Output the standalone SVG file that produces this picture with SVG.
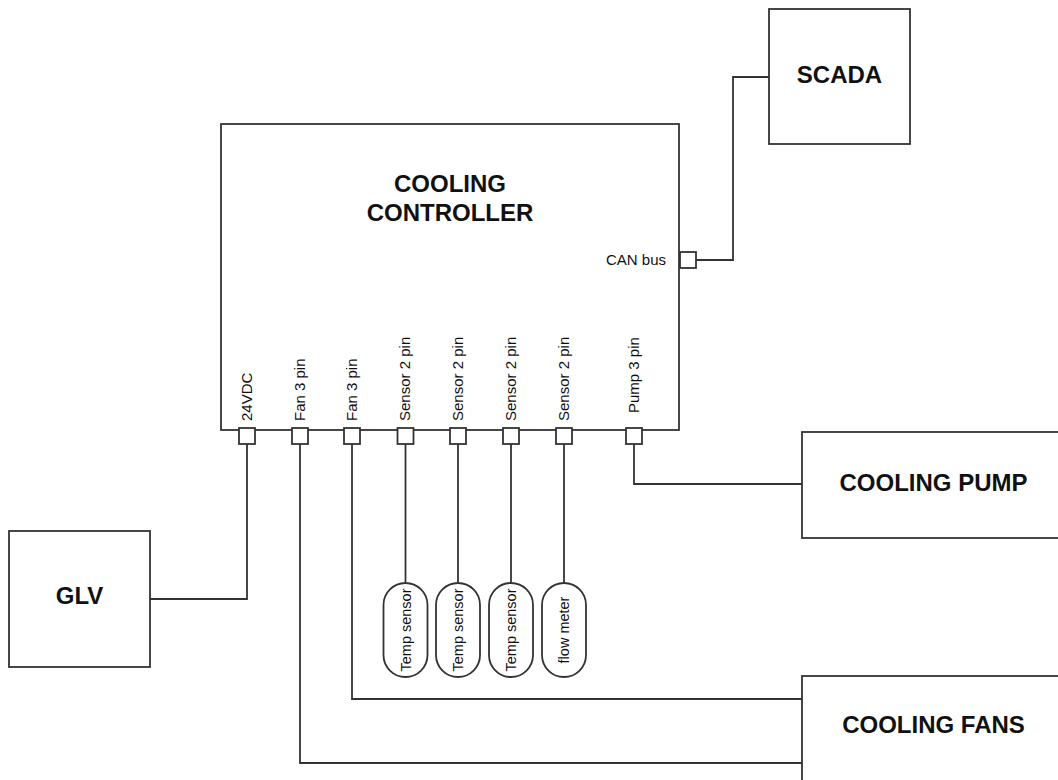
<svg xmlns="http://www.w3.org/2000/svg" width="1058" height="780" viewBox="0 0 1058 780">
<style>
.box{fill:#fff;stroke:#333;stroke-width:1.8}
.port{fill:#fff;stroke:#333;stroke-width:1.8}
.wire{fill:none;stroke:#333;stroke-width:1.8}
.title{font-family:"Liberation Sans",Arial,sans-serif;font-weight:bold;font-size:24px;fill:#111;text-anchor:middle}
.lbl{font-family:"Liberation Sans",Arial,sans-serif;font-size:15px;fill:#111}
.pl{font-family:"Liberation Sans",Arial,sans-serif;font-size:14.5px;fill:#111;text-anchor:middle}
</style>
<rect width="1058" height="780" fill="#fff"/>
<g id="connectors">
<path class="wire" d="M696 260 H733 V77 H769"/>
<path class="wire" d="M150 599 H247 V444"/>
<path class="wire" d="M634 444 V484 H802"/>
<path class="wire" d="M352 444 V699 H802"/>
<path class="wire" d="M300 444 V763 H802"/>
<path class="wire" d="M405.5 444 V583"/>
<path class="wire" d="M458 444 V583"/>
<path class="wire" d="M511 444 V583"/>
<path class="wire" d="M564 444 V583"/>
</g>
<g id="controller">
<rect class="box" x="221" y="124" width="458" height="306"/>
<text class="title" x="450" y="192">COOLING</text>
<text class="title" x="450" y="221">CONTROLLER</text>
<text class="lbl" x="666" y="265" text-anchor="end">CAN bus</text>
<rect class="port" x="680" y="252" width="16" height="16"/>
<rect class="port" x="239" y="428" width="16" height="16"/>
<rect class="port" x="292" y="428" width="16" height="16"/>
<rect class="port" x="344" y="428" width="16" height="16"/>
<rect class="port" x="397.5" y="428" width="16" height="16"/>
<rect class="port" x="450" y="428" width="16" height="16"/>
<rect class="port" x="503" y="428" width="16" height="16"/>
<rect class="port" x="556" y="428" width="16" height="16"/>
<rect class="port" x="626" y="428" width="16" height="16"/>
<text class="lbl" transform="translate(251.5,421) rotate(-90)">24VDC</text>
<text class="lbl" transform="translate(304.5,421) rotate(-90)">Fan 3 pin</text>
<text class="lbl" transform="translate(356.5,421) rotate(-90)">Fan 3 pin</text>
<text class="lbl" transform="translate(410,421) rotate(-90)">Sensor 2 pin</text>
<text class="lbl" transform="translate(462.5,421) rotate(-90)">Sensor 2 pin</text>
<text class="lbl" transform="translate(515.5,421) rotate(-90)">Sensor 2 pin</text>
<text class="lbl" transform="translate(568.5,421) rotate(-90)">Sensor 2 pin</text>
<text class="lbl" transform="translate(638.5,413) rotate(-90)">Pump 3 pin</text>
</g>
<g id="scada">
<rect class="box" x="769" y="9" width="141" height="135"/>
<text class="title" x="839.5" y="83">SCADA</text>
</g>
<g id="glv">
<rect class="box" x="9" y="531" width="141" height="136"/>
<text class="title" x="79.5" y="604">GLV</text>
</g>
<g id="pump">
<rect class="box" x="802" y="432" width="262" height="106"/>
<text class="title" x="933.5" y="491">COOLING PUMP</text>
</g>
<g id="fans">
<rect class="box" x="802" y="676" width="262" height="110"/>
<text class="title" x="933.5" y="733">COOLING FANS</text>
</g>
<g id="sensor1">
<rect class="box" x="383.5" y="583" width="44" height="94" rx="22"/>
<text class="pl" transform="translate(410.5,630) rotate(-90)">Temp sensor</text>
</g>
<g id="sensor2">
<rect class="box" x="436" y="583" width="44" height="94" rx="22"/>
<text class="pl" transform="translate(463,630) rotate(-90)">Temp sensor</text>
</g>
<g id="sensor3">
<rect class="box" x="489" y="583" width="44" height="94" rx="22"/>
<text class="pl" transform="translate(516,630) rotate(-90)">Temp sensor</text>
</g>
<g id="flowmeter">
<rect class="box" x="542" y="583" width="44" height="94" rx="22"/>
<text class="pl" transform="translate(569,630) rotate(-90)">flow meter</text>
</g>
</svg>
